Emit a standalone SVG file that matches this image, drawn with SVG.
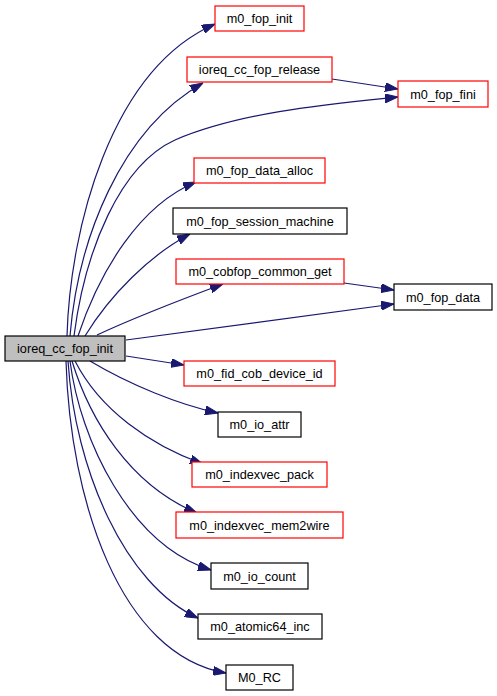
<svg xmlns="http://www.w3.org/2000/svg" width="497" height="696" viewBox="0 0 497 696">
<style>
.n rect{fill:#fff;stroke-width:1.2}
.r rect{stroke:#ff0000}
.b rect{stroke:#000}
.root rect{fill:#bfbfbf;stroke:#000}
text{font-family:"Liberation Sans",Arial,sans-serif;font-size:12.7px;text-anchor:middle;fill:#000}
.e path{fill:none;stroke:#191970;stroke-width:1.2;marker-end:url(#ah)}
</style>
<defs>
<marker id="ah" viewBox="0 0 13 9" refX="13" refY="4.5" markerWidth="13" markerHeight="9" markerUnits="userSpaceOnUse" orient="auto">
<path d="M0,0 L13,4.5 L0,9 Z" fill="#191970" stroke="#191970"/>
</marker>
</defs>
<rect width="497" height="696" fill="#fff"/>
<g class="e">
<path d="M67,336 C70,230 110,70 215,24"/>
<path d="M70,336 C78,240 120,130 203,83"/>
<path d="M74,336 C85,250 120,165 175,140 C240,112 330,104 398,97"/>
<path d="M332,79 L398,89"/>
<path d="M78,336 C100,270 140,205 196,182"/>
<path d="M85,336 C110,295 150,255 190,234"/>
<path d="M97,335 C140,315 180,300 223,284"/>
<path d="M344,283 L394,290"/>
<path d="M126,340 L394,304"/>
<path d="M126,356 L184,365"/>
<path d="M90,361 C130,385 180,405 218,413"/>
<path d="M75,361 C100,410 150,445 203,464"/>
<path d="M72,361 C90,420 130,485 197,513"/>
<path d="M70,361 C80,440 130,545 211,570"/>
<path d="M68,361 C75,470 125,585 198,618"/>
<path d="M66,361 C70,500 120,655 226,673"/>
</g>
<g id="ioreq_cc_fop_init" class="n root"><rect x="5" y="336" width="120" height="25"/><text x="65" y="353">ioreq_cc_fop_init</text></g>
<g id="m0_fop_init" class="n r"><rect x="215" y="6" width="89" height="25"/><text x="259.5" y="23">m0_fop_init</text></g>
<g id="ioreq_cc_fop_release" class="n r"><rect x="187" y="57" width="145" height="25"/><text x="259.5" y="74">ioreq_cc_fop_release</text></g>
<g id="m0_fop_fini" class="n r"><rect x="398" y="81" width="90" height="26"/><text x="443" y="98.5">m0_fop_fini</text></g>
<g id="m0_fop_data_alloc" class="n r"><rect x="194" y="158" width="131" height="25"/><text x="259.5" y="175">m0_fop_data_alloc</text></g>
<g id="m0_fop_session_machine" class="n b"><rect x="173" y="208" width="174" height="26"/><text x="260" y="225.5">m0_fop_session_machine</text></g>
<g id="m0_cobfop_common_get" class="n r"><rect x="176" y="259" width="168" height="25"/><text x="260" y="276">m0_cobfop_common_get</text></g>
<g id="m0_fop_data" class="n b"><rect x="394" y="284" width="98" height="26"/><text x="443" y="301.5">m0_fop_data</text></g>
<g id="m0_fid_cob_device_id" class="n r"><rect x="184" y="361" width="151" height="25"/><text x="259.5" y="378">m0_fid_cob_device_id</text></g>
<g id="m0_io_attr" class="n b"><rect x="218" y="412" width="83" height="25"/><text x="259.5" y="429">m0_io_attr</text></g>
<g id="m0_indexvec_pack" class="n r"><rect x="192" y="462" width="135" height="25"/><text x="259.5" y="479">m0_indexvec_pack</text></g>
<g id="m0_indexvec_mem2wire" class="n r"><rect x="176" y="512" width="167" height="26"/><text x="259.5" y="529.5">m0_indexvec_mem2wire</text></g>
<g id="m0_io_count" class="n b"><rect x="211" y="563" width="97" height="26"/><text x="259.5" y="580.5">m0_io_count</text></g>
<g id="m0_atomic64_inc" class="n b"><rect x="198" y="614" width="124" height="25"/><text x="260" y="631">m0_atomic64_inc</text></g>
<g id="M0_RC" class="n b"><rect x="226" y="665" width="67" height="25"/><text x="259.5" y="682">M0_RC</text></g>
</svg>
